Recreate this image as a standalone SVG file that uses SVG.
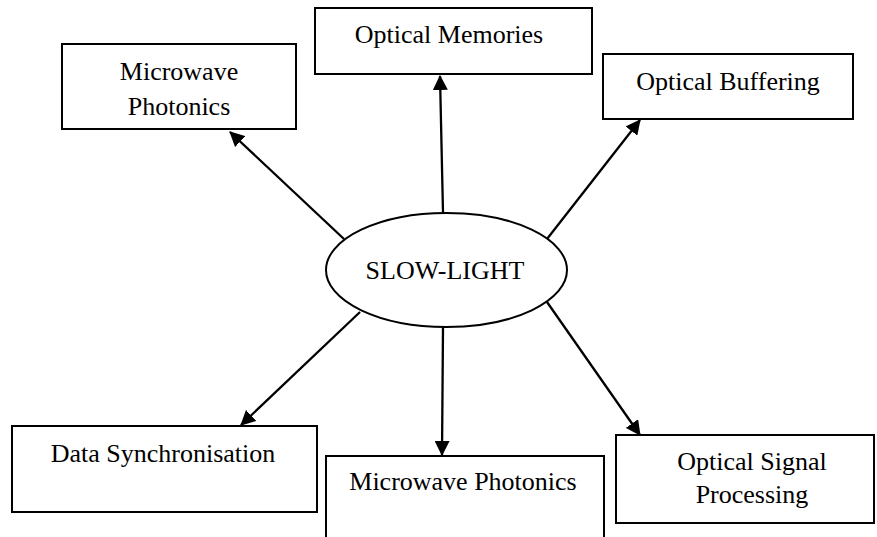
<svg xmlns="http://www.w3.org/2000/svg" width="877" height="537" viewBox="0 0 877 537">
<style>
.box{fill:#fff;stroke:#000;stroke-width:2}
.t{font-family:"Liberation Serif","Times New Roman",serif;font-size:26px;fill:#000;text-anchor:middle}
.c{stroke:#000;stroke-width:2.3;fill:none;marker-end:url(#ah)}
</style>
<defs>
<marker id="ah" markerUnits="userSpaceOnUse" markerWidth="15" markerHeight="15" refX="14" refY="7.5" orient="auto">
<path d="M0,0 L15,7.5 L0,15 z" fill="#000"/>
</marker>
</defs>
<rect width="877" height="537" fill="#fff"/>
<g id="n-mw-top"><rect class="box" x="62" y="44" width="234" height="85"/><text class="t" x="179" y="80">Microwave</text><text class="t" x="179" y="115">Photonics</text></g>
<g id="n-mem"><rect class="box" x="315" y="8" width="277" height="66"/><text class="t" x="449" y="43">Optical Memories</text></g>
<g id="n-buf"><rect class="box" x="603" y="54" width="250" height="65"/><text class="t" x="728" y="90">Optical Buffering</text></g>
<g id="n-center"><ellipse cx="446.5" cy="270" rx="120.5" ry="57" fill="#fff" stroke="#000" stroke-width="2"/><text class="t" x="445" y="279">SLOW-LIGHT</text></g>
<g id="n-sync"><rect class="box" x="12" y="426" width="305" height="86"/><text class="t" x="163" y="462">Data Synchronisation</text></g>
<g id="n-mw-bot"><rect class="box" x="326" y="456" width="278" height="100"/><text class="t" x="463" y="490">Microwave Photonics</text></g>
<g id="n-osp"><rect class="box" x="616" y="435" width="258" height="88"/><text class="t" x="752" y="470">Optical Signal</text><text class="t" x="752" y="503">Processing</text></g>
<g id="connectors">
<line class="c" x1="344" y1="239" x2="230" y2="132"/>
<line class="c" x1="443" y1="213" x2="440" y2="76"/>
<line class="c" x1="547" y1="239" x2="640" y2="120"/>
<line class="c" x1="360" y1="312" x2="241" y2="425"/>
<line class="c" x1="443" y1="327" x2="442" y2="455"/>
<line class="c" x1="547" y1="302" x2="640" y2="435"/>
</g>
</svg>
